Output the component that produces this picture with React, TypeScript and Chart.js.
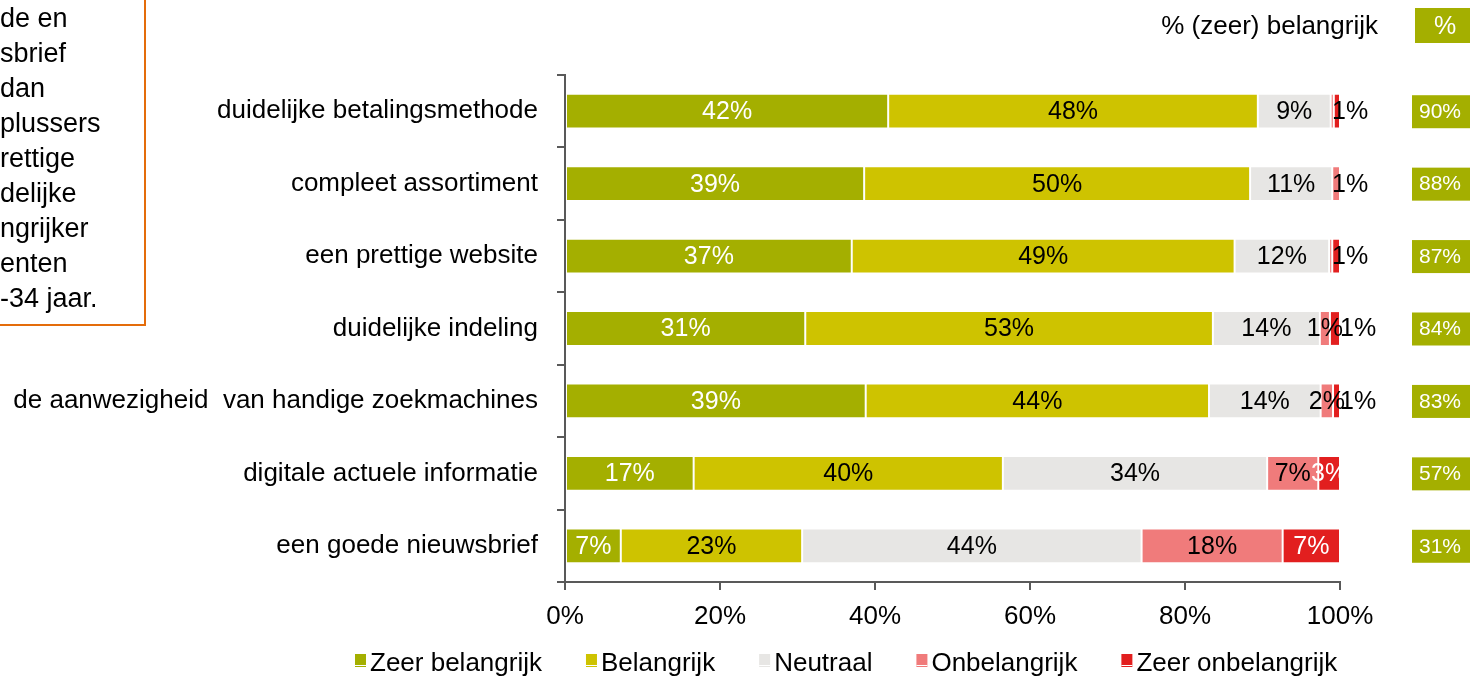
import React, { useEffect, useRef } from "react";
import { Chart, registerables } from "chart.js";

Chart.register(...registerables);

const categories = [
  "duidelijke betalingsmethode",
  "compleet assortiment",
  "een prettige website",
  "duidelijke indeling",
  "de aanwezigheid  van handige zoekmachines",
  "digitale actuele informatie",
  "een goede nieuwsbrief",
];
const seriesNames = ["Zeer belangrijk", "Belangrijk", "Neutraal", "Onbelangrijk", "Zeer onbelangrijk"];
const zeerBelangrijk = [41.7, 38.6, 37.0, 31.0, 38.8, 16.6, 7.2];
const belangrijk = [47.7, 49.8, 49.4, 52.6, 44.3, 39.9, 23.4];
const neutraal = [9.4, 10.6, 12.2, 13.8, 14.4, 34.1, 43.8];
const onbelangrijk = [0.4, 1.0, 0.4, 1.3, 1.6, 6.6, 18.2];
const zeerOnbelangrijk = [0.8, 0, 1.0, 1.3, 0.9, 2.8, 7.4];
const totaalBelangrijk = [90, 88, 87, 84, 83, 57, 31];
const xTicks = [0, 20, 40, 60, 80, 100];
const headerText = "% (zeer) belangrijk";
const noteLines = ["de en", "sbrief", "dan", "plussers", "rettige", "delijke", "ngrijker", "enten", "-34 jaar."];

const colors = ["#A4AF00", "#CEC300", "#E7E6E4", "#F07B7B", "#E21F1F"];
const labelColors = ["#FFFFFF", "#000000", "#000000", "#000000", "#FFFFFF"];
const FONT = "'Liberation Sans', Arial, sans-serif";

const overlayPlugin = {
  id: "overlay",
  afterDatasetsDraw(chart: any) {
    const ctx = chart.ctx;
    ctx.save();
    ctx.font = `25px ${FONT}`;
    ctx.textBaseline = "middle";
    const n = chart.data.labels.length;
    const nd = chart.data.datasets.length;
    for (let i = 0; i < n; i++) {
      let lastNonZero = -1;
      for (let d = 0; d < nd; d++) if (chart.data.datasets[d].data[i] > 0) lastNonZero = d;
      for (let d = 0; d < nd; d++) {
        const v = chart.data.datasets[d].data[i];
        const r = Math.round(v);
        if (r < 1) continue;
        const el = chart.getDatasetMeta(d).data[i];
        const p = el.getProps(["x", "base", "y"], true);
        const txt = r + "%";
        const x0 = Math.min(p.x, p.base);
        const x1 = Math.max(p.x, p.base);
        if (d === lastNonZero && v < 2) {
          const prev = d > 0 ? chart.data.datasets[d - 1].data[i] : 0;
          const prevTiny = Math.round(prev) >= 1 && prev < 2.5;
          ctx.fillStyle = "#000000";
          ctx.textAlign = "left";
          ctx.fillText(txt, prevTiny ? x1 : x1 - 8, p.y + 1);
        } else {
          ctx.fillStyle = labelColors[d];
          ctx.textAlign = "center";
          ctx.fillText(txt, (x0 + x1) / 2, p.y + 1);
        }
      }
    }
    // right-hand boxes
    const yScale = chart.scales.y;
    ctx.font = `21px ${FONT}`;
    for (let i = 0; i < n; i++) {
      const yc = yScale.getPixelForValue(i);
      ctx.fillStyle = colors[0];
      ctx.fillRect(1412, yc - 16, 58, 33);
      ctx.fillStyle = "#FFFFFF";
      ctx.textAlign = "center";
      ctx.fillText(totaalBelangrijk[i] + "%", 1440, yc + 1);
    }
    // header
    ctx.fillStyle = colors[0];
    ctx.fillRect(1415, 8, 55, 35);
    ctx.fillStyle = "#FFFFFF";
    ctx.font = `25px ${FONT}`;
    ctx.textAlign = "center";
    ctx.fillText("%", 1445, 27);
    ctx.fillStyle = "#000000";
    ctx.font = `26px ${FONT}`;
    ctx.textAlign = "right";
    ctx.fillText(headerText, 1378, 27);
    // legend
    ctx.font = `26px ${FONT}`;
    ctx.textAlign = "left";
    let x = 355;
    const ly = 663;
    for (let d = 0; d < nd; d++) {
      ctx.fillStyle = colors[d];
      ctx.fillRect(x, ly - 9, 11, 13);
      ctx.fillStyle = "#FFFFFF";
      ctx.fillRect(x, ly + 2, 11, 1);
      ctx.fillStyle = "#000000";
      const label = chart.data.datasets[d].label;
      ctx.fillText(label, x + 15, ly + 1);
      x += 15 + ctx.measureText(label).width + 44;
    }
    ctx.restore();
  },
};

export default function App() {
  const ref = useRef<HTMLCanvasElement | null>(null);
  useEffect(() => {
    if (!ref.current) return;
    const series = [zeerBelangrijk, belangrijk, neutraal, onbelangrijk, zeerOnbelangrijk];
    const chart = new Chart(ref.current, {
      type: "bar",
      data: {
        labels: categories,
        datasets: series.map((s, d) => ({
          label: seriesNames[d],
          data: s,
          backgroundColor: colors[d],
          borderColor: "#FFFFFF",
          borderWidth: 1,
          borderSkipped: false,
          categoryPercentage: 1,
          barPercentage: 0.48,
        })),
      },
      options: {
        indexAxis: "y",
        responsive: false,
        animation: false,
        devicePixelRatio: 1,
        layout: { padding: { left: 0, right: 130, top: 75, bottom: 0 } },
        plugins: { legend: { display: false }, tooltip: { enabled: false } },
        scales: {
          x: {
            stacked: true,
            min: 0,
            max: 100,
            afterBuildTicks: (scale: any) => {
              scale.ticks = xTicks.map((v) => ({ value: v }));
            },
            afterFit: (scale: any) => {
              scale.height = 94;
            },
            ticks: {
              callback: (v: any) => v + "%",
              color: "#000000",
              font: { family: FONT, size: 26 },
              padding: 11,
              maxRotation: 0,
            },
            grid: { drawOnChartArea: false, drawTicks: true, tickLength: 8, color: "#595959", lineWidth: 2 },
            border: { display: true, color: "#595959", width: 2 },
          },
          y: {
            stacked: true,
            afterFit: (scale: any) => {
              scale.width = 565;
            },
            ticks: {
              color: "#000000",
              font: { family: FONT, size: 26 },
              padding: 19,
            },
            grid: { drawOnChartArea: false, drawTicks: true, tickLength: 8, color: "#595959", lineWidth: 2, offset: true },
            border: { display: true, color: "#595959", width: 2 },
          },
        },
      },
      plugins: [overlayPlugin],
    } as any);
    return () => chart.destroy();
  }, []);

  return (
    <div style={{ position: "fixed", left: 0, top: 0, width: 1470, height: 676, overflow: "hidden", background: "#FFFFFF" }}>
      <canvas ref={ref} width={1470} height={676} style={{ position: "absolute", left: 0, top: 0, width: 1470, height: 676 }} />
      <div
        style={{
          position: "absolute",
          left: -300,
          top: -10,
          width: 446,
          height: 336,
          boxSizing: "border-box",
          border: "2px solid #E46C0A",
        }}
      />
      <div
        style={{
          position: "absolute",
          left: 0,
          top: 1,
          fontFamily: FONT,
          fontSize: 27,
          lineHeight: "35px",
          color: "#000000",
          whiteSpace: "pre",
        }}
      >
        {noteLines.map((l, i) => (
          <div key={i}>{l}</div>
        ))}
      </div>
    </div>
  );
}
